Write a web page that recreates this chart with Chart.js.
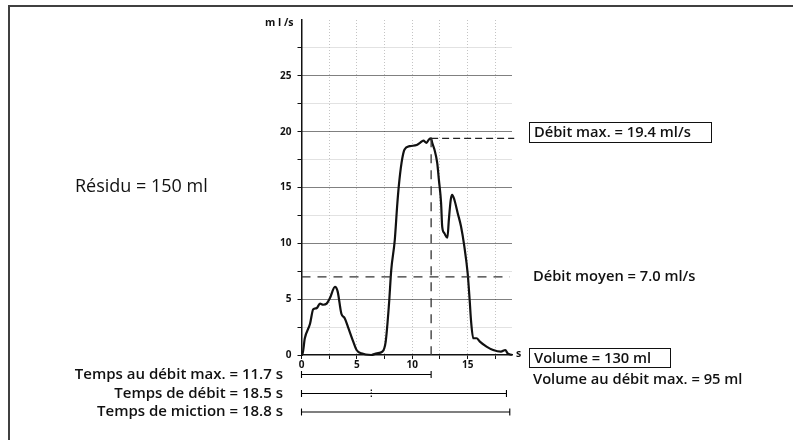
<!DOCTYPE html>
<html>
<head>
<meta charset="utf-8">
<script src="https://cdn.jsdelivr.net/npm/chart.js"></script>
<style>
  body { margin: 0; background: #fff; }
  #wrap { position: relative; width: 793px; height: 440px; overflow: hidden; }
  #frame { position: absolute; left: 8px; top: 5px; right: 0; bottom: 0;
           border-top: 2px solid #404040; border-left: 2px solid #404040; }
  canvas { position: absolute; left: 0; top: 0; }
</style>
</head>
<body>
<div id="wrap">
  <div id="frame"></div>
  <canvas id="uro" width="793" height="440"></canvas>
</div>
<script>
// flow curve (s, ml/s)
const timeS = [0, 0.07, 0.3, 0.77, 1.06, 1.37, 1.67, 1.96, 2.27, 2.57, 3.02, 3.26, 3.6, 3.9, 4.2, 4.67,
  4.97, 5.4, 6.3, 6.8, 7.3, 7.6, 7.9, 8.1, 8.42, 8.63, 8.78, 9.03, 9.3, 9.77, 10.4, 10.7, 11.0, 11.28,
  11.5, 11.7, 11.8, 12.0, 12.25, 12.4, 12.6, 12.7, 12.9, 13.17, 13.3, 13.47, 13.6, 13.8, 14.1, 14.4,
  14.7, 15.0, 15.18, 15.3, 15.5, 15.8, 16.1, 16.7, 17.3, 18.0, 18.4, 18.6, 19.0, 19.15];
const flowMlS = [0, 0, 1.5, 2.8, 4.1, 4.2, 4.6, 4.5, 4.6, 5.1, 6.1, 5.7, 3.7, 3.3, 2.5, 1.2,
  0.45, 0.15, 0, 0.15, 0.3, 1.2, 4.6, 7.6, 10.3, 13.3, 15.1, 17.2, 18.4, 18.7, 18.8, 19.0, 19.2, 19.0,
  19.3, 19.4, 19.0, 18.4, 17.2, 15.7, 13.6, 11.5, 10.9, 10.5, 12.1, 13.9, 14.35, 13.9, 12.7, 11.5,
  9.7, 7.3, 4.9, 3.1, 1.5, 1.5, 1.2, 0.75, 0.45, 0.3, 0.45, 0.15, 0, -0.1];

const xLabels = [0, 5, 10, 15];
const yLabels = [0, 5, 10, 15, 20, 25];

const qMax = 19.4;        // ml/s
const tQMax = 11.7;       // s
const qMean = 7.0;        // ml/s
const flowTime = 18.5;    // s
const voidTime = 18.8;    // s
const pauseAt = 6.3;      // s
const volume = 130;       // ml
const volAtQMax = 95;     // ml
const residual = 150;     // ml

const X_MAX = 19, Y_MAX = 30;
const rowY = [-1.75, -3.45, -5.1];   // rows under the axis, in ml/s units
const CAP = 0.32;                    // half height of the end caps
const FONT = '"Open Sans", sans-serif';

const curve = timeS.map((t, i) => ({ x: t, y: flowMlS[i] }));
const seg = (x1, y1, x2, y2) => [{ x: x1, y: y1 }, { x: x2, y: y2 }];
// horizontal bar with a small vertical cap at each end
const capped = (end, r) => [
  { x: 0, y: r + CAP }, { x: 0, y: r - CAP }, { x: 0, y: r },
  { x: end, y: r }, { x: end, y: r + CAP }, { x: end, y: r - CAP }
];

const lineDs = (data, extra) => Object.assign({
  data, borderColor: '#111', borderWidth: 1, pointRadius: 0, fill: false, clip: false
}, extra);

const datasets = [
  lineDs(seg(0, qMean, 18.8, qMean), { borderColor: '#333', borderWidth: 1.3, borderDash: [9, 7] }),
  lineDs(seg(tQMax, qMax, 19.2, qMax), { borderColor: '#222', borderWidth: 1.3, borderDash: [7, 4] }),
  lineDs(seg(tQMax, qMax, tQMax, 0), { borderColor: '#333', borderWidth: 1.3, borderDash: [9, 7] }),
  lineDs(curve, { borderWidth: 2.2, cubicInterpolationMode: 'monotone' }),
  // duration bars
  lineDs(capped(tQMax, rowY[0]), { borderColor: '#000', borderWidth: 1.1 }),
  lineDs(capped(flowTime, rowY[1]), { borderColor: '#000', borderWidth: 1.1 }),
  lineDs(capped(voidTime, rowY[2]), { borderColor: '#000', borderWidth: 1.1 }),
  lineDs(seg(pauseAt, rowY[1] + 0.35, pauseAt, rowY[1] - 0.35), { borderColor: '#000', borderWidth: 1.2, borderDash: [1.5, 1.5] })
];

function boxText(ctx, text, x, y, w, h) {
  ctx.strokeStyle = '#111';
  ctx.lineWidth = 1;
  ctx.strokeRect(x + 0.5, y + 0.5, w, h);
  ctx.textAlign = 'left';
  ctx.fillText(text, x + 5, y + h / 2 + 1);
}

const labelsPlugin = {
  id: 'labels',
  afterDraw(chart) {
    const { ctx, scales: { x, y } } = chart;
    ctx.save();
    ctx.fillStyle = '#111';
    ctx.textBaseline = 'middle';

    ctx.font = 'bold 10.5px ' + FONT;
    ctx.textAlign = 'right';
    ctx.fillText('m l /s', x.left - 8, y.top + 3);
    ctx.textAlign = 'left';
    ctx.fillText('s', x.right + 4, y.bottom - 1);

    ctx.font = '18px ' + FONT;
    ctx.fillText('Résidu = ' + residual + ' ml', 75, 187);

    ctx.font = '600 14.7px ' + FONT;
    boxText(ctx, 'Débit max. = ' + qMax.toFixed(1) + ' ml/s', 529, 122, 182, 20);
    ctx.fillText('Débit moyen = ' + qMean.toFixed(1) + ' ml/s', 533, y.getPixelForValue(qMean));
    boxText(ctx, 'Volume = ' + volume + ' ml', 529, 348, 141, 19);
    ctx.fillText('Volume au débit max. = ' + volAtQMax + ' ml', 533, 380);

    ctx.font = '600 15px ' + FONT;
    ctx.textAlign = 'right';
    const rows = [
      'Temps au débit max. = ' + tQMax.toFixed(1) + ' s',
      'Temps de débit = ' + flowTime.toFixed(1) + ' s',
      'Temps de miction = ' + voidTime.toFixed(1) + ' s'
    ];
    rows.forEach((r, i) => ctx.fillText(r, 283, y.getPixelForValue(rowY[i])));
    ctx.restore();
  }
};

const isMajor = v => Math.abs(v % 5) < 1e-6;

new Chart(document.getElementById('uro'), {
  type: 'line',
  data: { datasets },
  plugins: [labelsPlugin],
  options: {
    responsive: false,
    animation: false,
    devicePixelRatio: 1,
    layout: { padding: { left: 270, right: 281, top: 20, bottom: 0 } },
    plugins: { legend: { display: false }, tooltip: { enabled: false } },
    scales: {
      x: {
        type: 'linear', min: 0, max: X_MAX,
        afterFit: s => { s.height = 85; },
        ticks: {
          stepSize: 2.5, includeBounds: false, maxRotation: 0, autoSkip: false, padding: 0,
          color: '#111', font: { family: FONT, size: 10, weight: 'bold' },
          callback: v => xLabels.includes(v) ? String(v) : ''
        },
        grid: {
          color: c => c.tick && c.tick.value === 0 ? 'rgba(0,0,0,0)' : '#c4c4c4',
          lineWidth: 1, tickLength: 4, tickColor: '#111', drawTicks: true
        },
        border: { display: true, color: '#111', width: 1.5, dash: [1, 2] }
      },
      y: {
        min: 0, max: Y_MAX,
        afterFit: s => { s.width = 31.5; },
        ticks: {
          stepSize: 2.5, padding: 6, color: '#111',
          font: { family: FONT, size: 10, weight: 'bold' },
          callback: v => yLabels.includes(v) ? String(v) : ''
        },
        grid: {
          color: c => {
            const v = c.tick ? c.tick.value : 0;
            if (v === 0 || v === Y_MAX) return 'rgba(0,0,0,0)';
            return isMajor(v) ? '#000' : '#c4c4c4';
          },
          tickColor: c => (c.tick && c.tick.value === Y_MAX) ? 'rgba(0,0,0,0)' : '#111',
          lineWidth: 1, tickLength: 4
        },
        border: { display: true, color: '#111', width: 1.5, dash: [1, 1] }
      }
    }
  }
});
</script>
</body>
</html>
